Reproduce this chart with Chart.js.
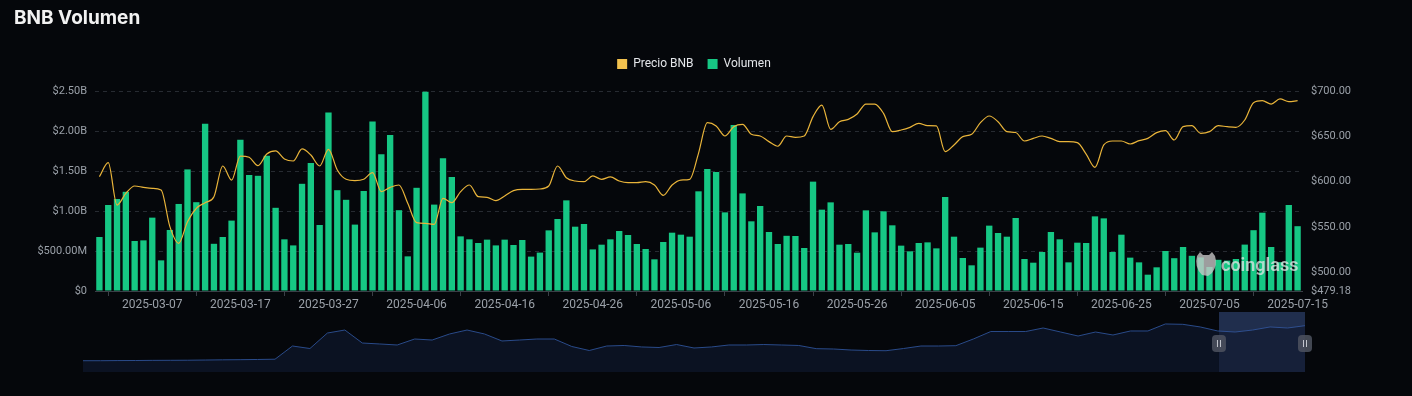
<!DOCTYPE html>
<html><head><meta charset="utf-8">
<script src="https://cdn.jsdelivr.net/npm/chart.js@4"></script>
<style>
html,body{margin:0;padding:0;background:#05070b;width:1412px;height:396px;overflow:hidden;}
#title{position:absolute;left:14px;top:6px;font:700 19px Inter, "Noto Sans", sans-serif;color:#f2f2f2;z-index:3;}
#main{position:absolute;left:0;top:0;z-index:1;}
#nav{position:absolute;left:0;top:300px;z-index:2;}
</style></head><body>
<div id="title">BNB Volumen</div>
<canvas id="main" width="1412" height="320"></canvas>
<canvas id="nav" width="1412" height="80"></canvas>
<script>
// ---------- DATA ----------
const firstDay = [2025, 2, 1]; // 2025-03-01
const dayCount = 137;
const dates = [];
for (let i = 0; i < dayCount; i++) {
  dates.push(new Date(Date.UTC(firstDay[0], firstDay[1], firstDay[2] + i)).toISOString().slice(0, 10));
}
const tickLabels = ['2025-03-07','2025-03-17','2025-03-27','2025-04-06','2025-04-16','2025-04-26','2025-05-06',
  '2025-05-16','2025-05-26','2025-06-05','2025-06-15','2025-06-25','2025-07-05','2025-07-15'];

// daily volume, billions USD
const volumeB = [
  0.675,1.075,1.15,1.24,0.625,0.633,0.917,0.383,0.763,1.088,
  1.52,1.11,2.09,0.59,0.675,0.88,1.89,1.45,1.44,1.69,
  1.04,0.646,0.57,1.34,1.60,0.825,2.23,1.26,1.14,0.83,
  1.25,2.12,1.71,1.95,1.01,0.433,1.29,2.49,1.08,1.66,
  1.425,0.683,0.646,0.60,0.642,0.57,0.642,0.575,0.6375,0.43,
  0.48,0.758,0.90,1.133,0.804,0.8375,0.52,0.579,0.646,0.75,
  0.70,0.5875,0.525,0.396,0.6125,0.729,0.704,0.679,1.246,1.525,
  1.4875,0.983,2.075,1.22,0.871,1.0625,0.7375,0.5875,0.69,0.6875,
  0.5375,1.367,1.0167,1.108,0.579,0.5875,0.479,1.008,0.733,0.996,
  0.821,0.567,0.496,0.60,0.608,0.533,1.175,0.679,0.4125,0.321,
  0.542,0.817,0.725,0.679,0.9125,0.40,0.354,0.4875,0.7375,0.646,
  0.358,0.604,0.60,0.933,0.908,0.4875,0.704,0.417,0.358,0.204,
  0.296,0.50,0.41,0.55,0.44,0.42,0.30,0.39,0.38,0.40,
  0.58,0.76,0.979,0.55,0.36,1.075,0.81
];

// daily BNB price, USD
const priceBNB = [
  605.4,620.9,574.1,587.0,595.1,593.6,592.5,590.7,550.2,531.8,
  555.7,570.5,576.7,583.3,617.2,601.7,628.2,626.8,617.6,630.4,
  633.8,624.9,622.7,636.0,629.3,617.2,635.6,612.8,602.5,601.0,
  602.5,609.8,588.9,593.6,596.2,576.0,554.6,553.9,552.8,581.5,
  576.7,588.9,596.2,583.3,582.6,578.9,584.1,590.0,591.4,591.4,
  591.8,595.1,617.2,604.3,600.6,599.9,606.2,602.5,605.1,600.6,
  598.8,598.8,599.9,596.2,584.8,596.2,601.7,602.5,631.2,665.0,
  661.4,650.3,660.6,663.2,652.2,650.3,644.1,639.0,650.3,648.8,
  650.3,671.7,684.5,657.7,666.1,668.7,674.6,685.6,685.6,675.3,
  655.1,656.9,659.9,664.3,661.7,661.4,633.0,640.4,649.6,652.2,
  665.0,672.4,666.1,655.1,654.2,644.8,647.7,650.3,647.7,644.1,
  644.1,643.0,630.4,615.7,640.4,644.8,644.8,641.5,645.2,647.7,
  654.0,656.2,645.9,660.6,661.7,653.3,655.1,661.7,660.6,659.9,
  668.0,687.1,689.3,685.6,691.2,688.2,689.3
];

const leftTicksB = [0, 0.5, 1, 1.5, 2, 2.5];
const rightTicks = [479.18, 500, 550, 600, 650, 700];

// long-range price history shown in the navigator strip (USD, approximate)
const navPrice = [
  166,166,168,169,171,172,173,176,179,181,184,188,382,345,573,617,426,412,397,485,
  470,559,617,559,456,470,485,485,375,316,382,390,368,360,404,353,368,397,397,404,
  397,390,343,338,323,316,313,345,382,382,387,485,595,595,595,647,588,529,588,544,
  603,603,706,701,662,603,588,617,662,647,681
];

// ---------- STYLE ----------
const TICK_COLOR = '#9aa0a8';
const GRID_COLOR = '#272b32';
const AXIS_COLOR = '#3a3f47';
const GREEN = '#16c784';
const GOLD_LINE = '#e9b43a';
const GOLD_BOX = '#f2c14e';
const FONT = 'Roboto';

const fmtLeft = v => v === 0 ? '$0' : (v < 1 ? '$' + (v * 1000).toFixed(2) + 'M' : '$' + v.toFixed(2) + 'B');

const legendExtra = {
  id: 'legendExtra',
  afterInit(chart) {
    const lg = chart.legend;
    if (!lg) return;
    const orig = lg.fit.bind(lg);
    lg.fit = function () { orig(); this.height += 11; };
  }
};

const watermark = {
  id: 'watermark',
  afterDatasetsDraw(chart) {
    const {ctx, chartArea} = chart;
    const cx = chartArea.right - 96, cy = chartArea.bottom - 26;
    ctx.save();
    ctx.fillStyle = 'rgba(200,200,200,0.78)';
    ctx.beginPath();
    ctx.moveTo(cx - 9, cy - 9);
    ctx.lineTo(cx - 6, cy - 13);
    ctx.lineTo(cx - 3, cy - 10);
    ctx.lineTo(cx + 3, cy - 10);
    ctx.lineTo(cx + 6, cy - 13);
    ctx.lineTo(cx + 9, cy - 9);
    ctx.quadraticCurveTo(cx + 12, cy, cx + 6, cy + 8);
    ctx.lineTo(cx + 2, cy + 11);
    ctx.lineTo(cx - 4, cy + 10);
    ctx.quadraticCurveTo(cx - 12, cy + 2, cx - 9, cy - 9);
    ctx.fill();
    ctx.font = '600 18px ' + FONT;
    ctx.textBaseline = 'middle';
    ctx.fillStyle = 'rgba(230,230,230,0.75)';
    ctx.fillText('coinglass', cx + 15, cy + 1);
    ctx.restore();
  }
};

new Chart(document.getElementById('main'), {
  data: {
    labels: dates,
    datasets: [
      {
        type: 'line', label: 'Precio BNB', data: priceBNB, yAxisID: 'y1', order: 0,
        borderColor: GOLD_LINE, backgroundColor: GOLD_BOX, borderWidth: 1.2,
        pointRadius: 0, cubicInterpolationMode: 'monotone', fill: false
      },
      {
        type: 'bar', label: 'Volumen', data: volumeB, yAxisID: 'y', order: 1,
        backgroundColor: GREEN, borderWidth: 0, barPercentage: 0.72, categoryPercentage: 1
      }
    ]
  },
  options: {
    responsive: false, animation: false, devicePixelRatio: 1,
    layout: {padding: {top: 44, left: 0, right: 24, bottom: 0}},
    plugins: {
      tooltip: {enabled: false},
      legend: {
        position: 'top', align: 'center',
        labels: {
          boxWidth: 10, boxHeight: 10, padding: 14, color: '#e4e6ea',
          font: {family: FONT, size: 12},
          generateLabels: (chart) => chart.data.datasets.map((d, i) => ({
            text: d.label, fillStyle: d.backgroundColor, strokeStyle: d.backgroundColor,
            lineWidth: 0, hidden: false, datasetIndex: i, fontColor: '#e4e6ea'
          }))
        }
      }
    },
    scales: {
      x: {
        type: 'category', offset: true,
        grid: {
          offset: true, drawOnChartArea: false, drawTicks: true, tickLength: 5,
          color: (c) => (c.tick === undefined || tickLabels.includes(c.tick.label)) ? AXIS_COLOR : 'rgba(0,0,0,0)'
        },
        border: {display: true, color: AXIS_COLOR},
        ticks: {
          autoSkip: false, maxRotation: 0, minRotation: 0, padding: 2, color: TICK_COLOR,
          font: {family: FONT, size: 12},
          callback: function (v, i) { const l = dates[i]; return tickLabels.includes(l) ? l : null; }
        },
        afterFit: (s) => { s.height = 29; }
      },
      y: {
        position: 'left', min: 0, max: 2.5,
        grid: {color: GRID_COLOR, drawTicks: false},
        border: {display: false, dash: [4, 4]},
        ticks: {padding: 8, color: TICK_COLOR, font: {family: FONT, size: 11}, callback: fmtLeft},
        afterBuildTicks: (s) => { s.ticks = leftTicksB.map(v => ({value: v})); },
        afterFit: (s) => { s.width = 95; }
      },
      y1: {
        position: 'right', min: rightTicks[0], max: rightTicks[rightTicks.length - 1],
        grid: {display: false, drawTicks: false},
        border: {display: false},
        ticks: {padding: 9, color: TICK_COLOR, font: {family: FONT, size: 11}, callback: v => '$' + v.toFixed(2)},
        afterBuildTicks: (s) => { s.ticks = rightTicks.map(v => ({value: v})); },
        afterFit: (s) => { s.width = 86; }
      }
    }
  },
  plugins: [legendExtra, watermark]
});

// ---------- NAVIGATOR ----------
const navWindowStart = 0.9296;
const navDecor = {
  id: 'navDecor',
  beforeDatasetsDraw(chart) {
    const {ctx, chartArea: a} = chart;
    const x0 = a.left + (a.right - a.left) * navWindowStart;
    ctx.save();
    ctx.fillStyle = 'rgba(70,100,165,0.3)';
    ctx.fillRect(x0, a.top, a.right - x0, a.bottom - a.top);
    ctx.restore();
  },
  afterDatasetsDraw(chart) {
    const {ctx, chartArea: a} = chart;
    const x0 = a.left + (a.right - a.left) * navWindowStart;
    ctx.save();
    ctx.fillStyle = 'rgba(70,100,165,0.18)';
    ctx.fillRect(x0, a.top, a.right - x0, a.bottom - a.top);
    ctx.restore();
  },
  afterDraw(chart) {
    const {ctx, chartArea: a} = chart;
    const x0 = a.left + (a.right - a.left) * navWindowStart;
    const cy = (a.top + a.bottom) / 2 + 1;
    [x0, a.right].forEach(x => {
      ctx.save();
      ctx.fillStyle = 'rgba(78,82,95,0.85)';
      ctx.beginPath();
      ctx.roundRect(x - 7, cy - 8, 14, 17, 4);
      ctx.fill();
      ctx.strokeStyle = 'rgba(210,212,218,0.9)';
      ctx.lineWidth = 1;
      ctx.beginPath();
      ctx.moveTo(x - 1.5, cy - 3); ctx.lineTo(x - 1.5, cy + 4);
      ctx.moveTo(x + 1.5, cy - 3); ctx.lineTo(x + 1.5, cy + 4);
      ctx.stroke();
      ctx.restore();
    });
  }
};

new Chart(document.getElementById('nav'), {
  type: 'line',
  data: {
    labels: navPrice.map((_, i) => i),
    datasets: [{
      data: navPrice, borderColor: '#2a4b8a', borderWidth: 1, backgroundColor: '#0b1222',
      fill: 'origin', pointRadius: 0, tension: 0
    }]
  },
  options: {
    responsive: false, animation: false, devicePixelRatio: 1,
    layout: {padding: {left: 83, right: 107, top: 12, bottom: 8}},
    plugins: {legend: {display: false}, tooltip: {enabled: false}},
    scales: {
      x: {type: 'category', offset: false, display: false},
      y: {min: 0, max: 882, display: false}
    }
  },
  plugins: [navDecor]
});
</script></body></html>
